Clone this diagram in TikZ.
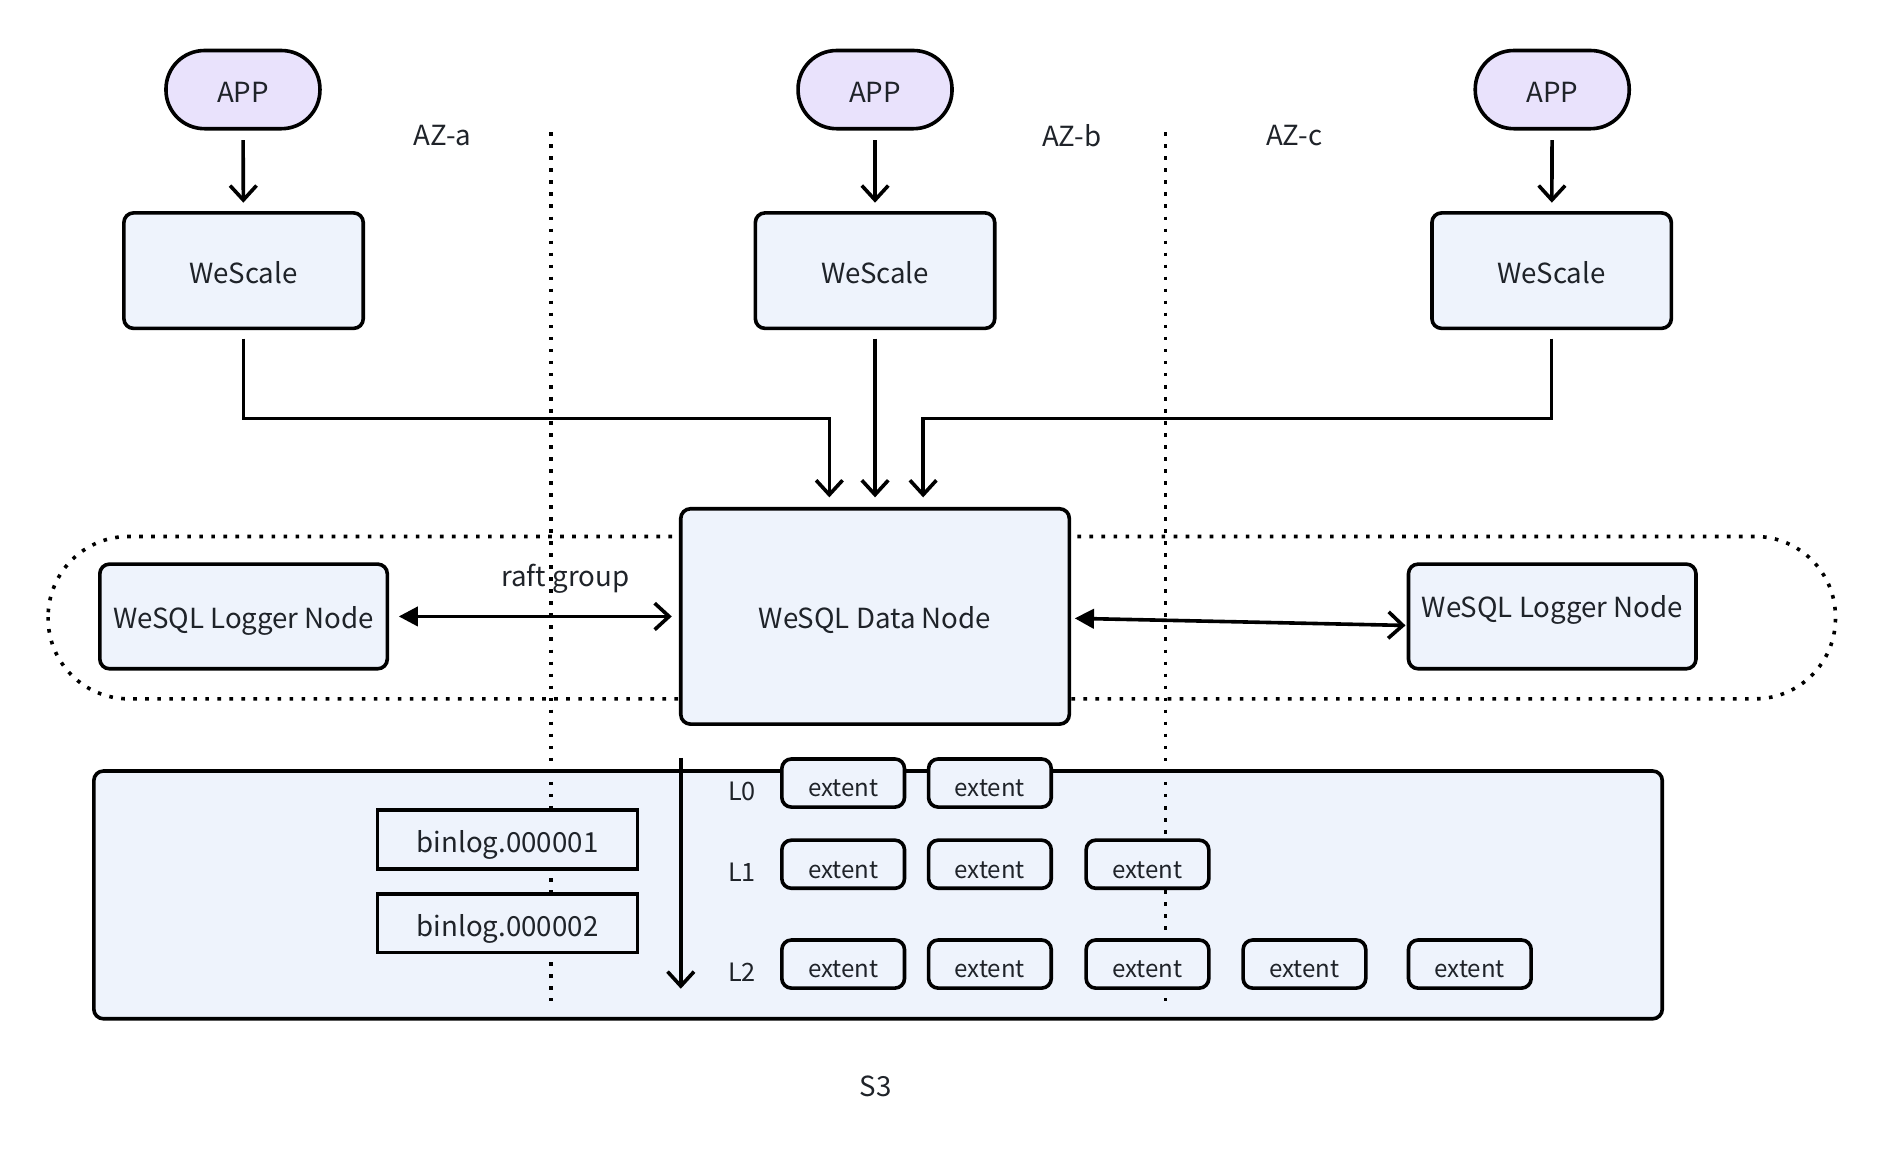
\documentclass[tikz,border=0pt]{standalone}
\usepackage{fontspec}
\setmainfont{Noto Sans CJK SC}
\usetikzlibrary{arrows.meta,positioning}
\definecolor{appfill}{HTML}{E9E2FC}
\definecolor{boxfill}{HTML}{EEF3FC}
\definecolor{ink}{HTML}{1F2329}

\begin{document}
\begin{tikzpicture}[x=0.5pt, y=-0.5pt,
  font=\fontsize{11.5}{14}\selectfont, text=ink,
  boxtext/.style={text height=10.4pt, text depth=0pt},
  app/.style={draw, line width=1.5pt, fill=appfill, rounded corners=16pt, minimum width=64pt, minimum height=32.5pt, inner sep=0pt, boxtext},
  proxy/.style={draw, line width=1.5pt, fill=boxfill, rounded corners=4pt, minimum width=99.5pt, minimum height=48pt, inner sep=0pt, boxtext},
  logger/.style={draw, line width=1.5pt, fill=boxfill, rounded corners=4pt, minimum width=119.5pt, minimum height=43.5pt, inner sep=0pt, boxtext},
  datanode/.style={draw, line width=1.5pt, fill=boxfill, rounded corners=4pt, minimum width=161.5pt, minimum height=89.5pt, inner sep=0pt, boxtext},
  extent/.style={draw, line width=1.5pt, fill=boxfill, rounded corners=4pt, minimum width=51pt, minimum height=20pt, inner sep=0pt, font=\fontsize{10}{12}\selectfont, text height=11.5pt, text depth=0pt},
  binlog/.style={draw, line width=1.5pt, fill=boxfill, minimum width=108pt, minimum height=24.5pt, inner sep=0pt, text height=11pt, text depth=0pt},
  zone/.style={line width=1.5pt, dash pattern=on 1.5pt off 3.5pt},
  arr/.style={-{Straight Barb[length=6pt,width=11pt]}, line width=1.5pt},
  raft/.style={{Triangle[length=8pt,width=8pt]}-{Straight Barb[length=6pt,width=11pt]}, line width=1.5pt}
]
\useasboundingbox (0,0) rectangle (1568,958);

% S3 storage
\node[draw, line width=1.5pt, fill=boxfill, rounded corners=4pt, minimum width=652pt, minimum height=103pt] (s3) at (730,744) {};
\node (s3label) at (728,903) {S3};

% availability zones
\draw[zone] (458,110) -- (458,832);
\draw[zone] (969,110) -- (969,832);
\node (aza) at (368,113) {AZ-a};
\node (azb) at (891,113) {AZ-b};
\node (azc) at (1076,113) {AZ-c};

% raft group ring
\draw[zone, rounded corners=33.5pt] (40,446) rectangle (1526,581);

\node[app] (app1) at (202,74.5) {APP};
\node[app] (app2) at (727.5,74.5) {APP};
\node[app] (app3) at (1290.5,74.5) {APP};

\node[proxy] (wes1) at (202.5,225) {WeScale};
\node[proxy] (wes2) at (727.5,225) {WeScale};
\node[proxy] (wes3) at (1290,225) {WeScale};

\node[datanode] (data) at (727.5,512.5) {WeSQL Data Node};
\node[logger] (log1) at (202.5,512.5) {WeSQL Logger Node};
\node[logger, text depth=9.5pt] (log2) at (1290.5,512.5) {WeSQL Logger Node};
\node (raftlabel) at (470,481) {raft group};

\coordinate (bus) at (0,348);
\coordinate (lvltop) at (566,630);
\coordinate (lvlbot) at (566,822);

\draw[arr, shorten <=4pt, shorten >=3.5pt] (app1) -- (wes1);
\draw[arr, shorten <=4pt, shorten >=3.5pt] (app2) -- (wes2);
\draw[arr, shorten <=4pt, shorten >=3.5pt] (app3) -- (wes3);

\draw[arr, shorten <=3.5pt, shorten >=4pt] (wes1.south) -- (wes1.south |- bus) -| ([xshift=-19pt]data.north);
\draw[arr, shorten <=3.5pt, shorten >=4pt] (wes2) -- (data);
\draw[arr, shorten <=3.5pt, shorten >=4pt] (wes3.south) -- (wes3.south |- bus) -| ([xshift=20pt]data.north);

\draw[raft, shorten <=4pt, shorten >=3pt] (log1) -- (data);
\draw[raft, shorten <=1.5pt, shorten >=0.5pt] ([yshift=-0.75pt]data.east) -- ([yshift=-3.75pt]log2.west);

% LSM levels
\draw[arr] (lvltop) -- (lvlbot);
\node[font=\fontsize{10.5}{12}\selectfont] (l0) at (617,658) {L0};
\node[font=\fontsize{10.5}{12}\selectfont] (l1) at (617,725) {L1};
\node[font=\fontsize{10.5}{12}\selectfont] (l2) at (617,808) {L2};

\node[extent] (e01) at (701,651) {extent};
\node[extent] (e02) at (823,651) {extent};

\node[extent] (e11) at (701,718.5) {extent};
\node[extent] (e12) at (823,718.5) {extent};
\node[extent] (e13) at (954,718.5) {extent};

\node[extent] (e21) at (701,801.5) {extent};
\node[extent] (e22) at (823,801.5) {extent};
\node[extent] (e23) at (954,801.5) {extent};
\node[extent] (e24) at (1084.5,801.5) {extent};
\node[extent] (e25) at (1222,801.5) {extent};

\node[binlog] (bin1) at (422,698) {binlog.000001};
\node[binlog] (bin2) at (422,767.5) {binlog.000002};
\end{tikzpicture}
\end{document}
